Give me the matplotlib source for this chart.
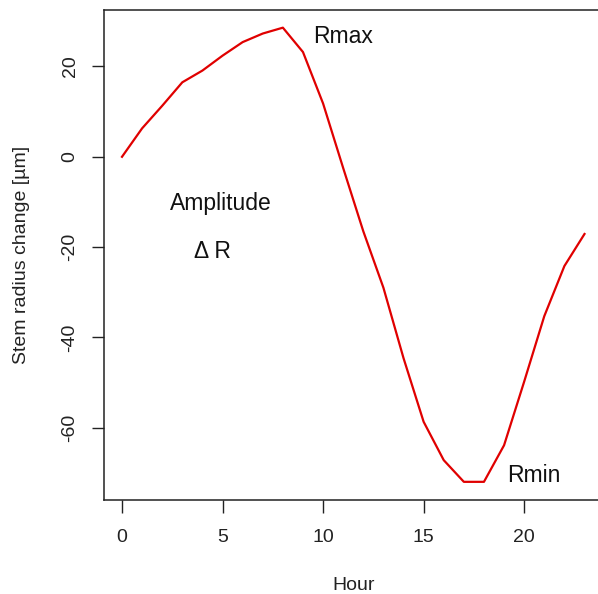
import matplotlib
matplotlib.use("Agg")
import matplotlib.pyplot as plt

hours = list(range(24))
radius_change = [0, 6.3, 11.3, 16.5, 19.1, 22.4, 25.4, 27.3, 28.6, 23.2, 11.8, -2.5,
                 -16.5, -29, -44.6, -58.7, -67.2, -72, -72, -63.9, -49.8, -35.3, -24.2, -17.1]
x_ticks = [0, 5, 10, 15, 20]
y_ticks = [-60, -40, -20, 0, 20]

plt.rcParams['font.family'] = ['Liberation Sans', 'DejaVu Sans']

W, H = 598, 594
fig = plt.figure(figsize=(W / 100, H / 100), dpi=100)
left, right, top, bottom = 103.5, 603, 9.5, 500
ax = fig.add_axes([left / W, (H - bottom) / H, (right - left) / W, (bottom - top) / H])

ax.plot(hours, radius_change, color='#e00000', lw=1.6, solid_joinstyle='round')

xmin, xmax = min(hours), max(hours)
ymin, ymax = min(radius_change), max(radius_change)
px = 0.04 * (xmax - xmin)
py = 0.04 * (ymax - ymin)
ax.set_xlim(xmin - px, xmax + px)
ax.set_ylim(ymin - py, ymax + py)

ax.set_xticks(x_ticks)
ax.set_yticks(y_ticks)
ax.set_yticklabels([str(v) for v in y_ticks], rotation=90, va='center')
ax.tick_params(axis='both', direction='out', length=9, width=1, labelsize=14, colors='#222222')
ax.tick_params(axis='x', pad=12)
ax.tick_params(axis='y', pad=9)
for s in ax.spines.values():
    s.set_linewidth(1.1)
    s.set_color('#222222')

ax.set_xlabel('Hour', fontsize=14, labelpad=22, color='#222222')
ax.set_ylabel('Stem radius change [µm]', fontsize=14, labelpad=23, color='#222222')

ax.text(11, 25.1, 'Rmax', fontsize=16.5, ha='center', va='baseline', color='#111111')
ax.text(4.9, -11.7, 'Amplitude', fontsize=16.5, ha='center', va='baseline', color='#111111')
ax.text(4.5, -22.4, 'Δ R', fontsize=16.5, ha='center', va='baseline', color='#111111')
ax.text(20.5, -72, 'Rmin', fontsize=16.5, ha='center', va='baseline', color='#111111')

fig.savefig('out.png', dpi=100, facecolor='white')
